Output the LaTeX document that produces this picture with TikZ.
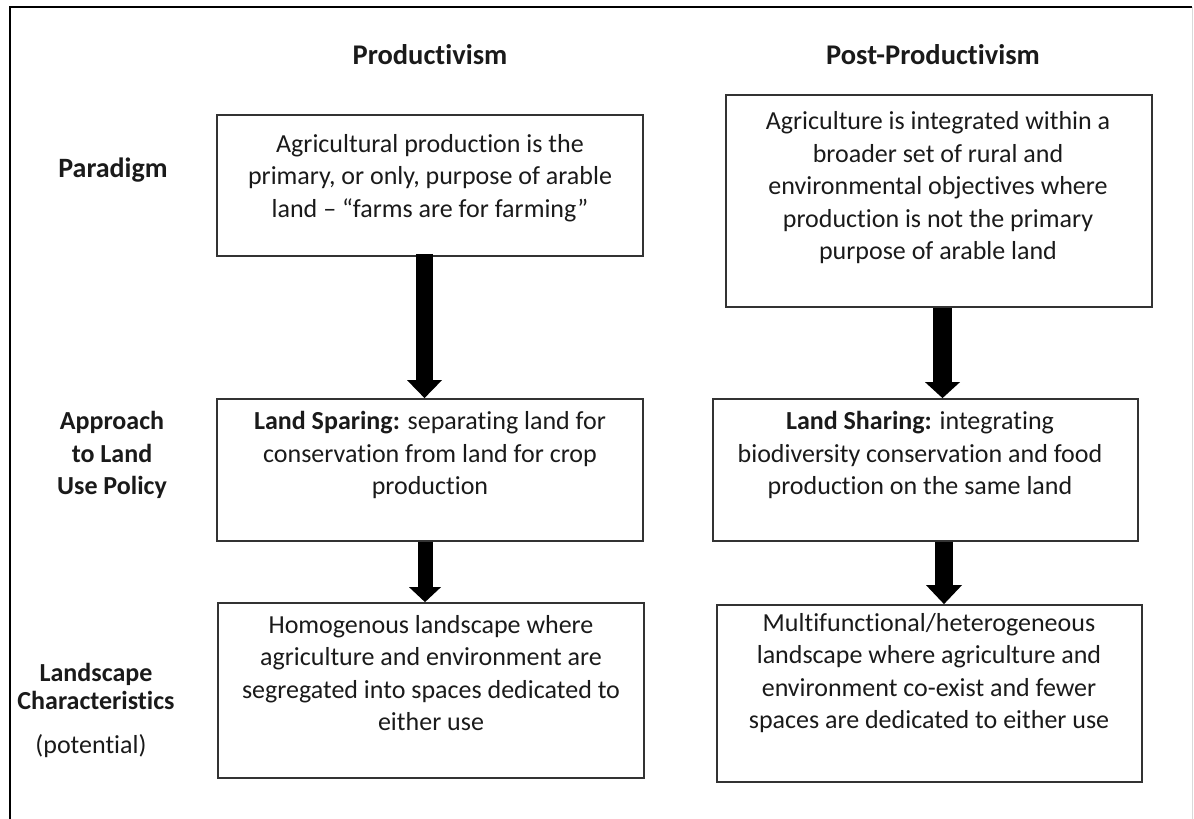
\documentclass[tikz,border=0pt]{standalone}
\usepackage{fontspec}
\setmainfont{Carlito}[RawFeature={-liga;-clig;-calt;-dlig}]
\usetikzlibrary{arrows.meta}
\definecolor{boxc}{HTML}{333333}
\definecolor{txtc}{HTML}{1A1A1A}
\tikzset{
  box/.style={draw=boxc, line width=1.8pt, inner sep=0pt},
  txt/.style={align=center, text=txtc, inner sep=0pt, font=\fontsize{26}{32.5}\selectfont},
  hdr/.style={text=txtc, inner sep=0pt, font=\fontsize{28.5}{33}\selectfont\bfseries},
  side/.style={align=center, text=txtc, inner sep=0pt, font=\fontsize{26}{32.5}\selectfont\bfseries},
  fat/.style n args={3}{draw=black, line width=#1, -{Triangle[width=#2,length=#3,line width=0pt]}}
}
\begin{document}
\begin{tikzpicture}[x=1pt,y=-1pt]
\useasboundingbox (0,0) rectangle (1194,819);
% outer frame
\draw[line width=2.5pt, black] (10,830) -- (10,7) -- (1192,7);
\draw[line width=0.8pt, black!15] (1192,7) -- (1192,830);

% headers
\node[hdr] (h1) at (430,55) {Productivism};
\node[hdr] (h2) at (933,55) {Post-Productivism};

% side labels
\node[side, font=\fontsize{28}{33}\selectfont\bfseries] (s1) at (113,170) {Paradigm};
\node[side] (s2) at (112,455) {Approach\\to Land\\Use Policy};
\node[side, font=\fontsize{26}{28}\selectfont\bfseries] (s3) at (96,686) {Landscape\\Characteristics};
\node[txt] (s4) at (91,746) {(potential)};

% boxes
\node[box, minimum width=426, minimum height=141] (A) at (430,185.5) {};
\node[box, minimum width=426, minimum height=212] (B) at (939,201) {};
\node[box, minimum width=426, minimum height=142] (C) at (430,470) {};
\node[box, minimum width=425, minimum height=142] (D) at (925.5,470) {};
\node[box, minimum width=426, minimum height=175] (E) at (431,690.5) {};
\node[box, minimum width=425, minimum height=177] (F) at (929.5,693.5) {};

% box texts
\node[txt] (tA) at (430,178) {Agricultural production is the\\primary, or only, purpose of arable\\land -- “farms are for farming”};
\node[txt] (tB) at (938,188) {Agriculture is integrated within a\\broader set of rural and\\environmental objectives where\\production is not the primary\\purpose of arable land};
\node[txt] (tC) at (430,455) {\textbf{Land Sparing:} separating land for\\conservation from land for crop\\production};
\node[txt] (tD) at (920,455) {\textbf{Land Sharing:} integrating\\biodiversity conservation and food\\production on the same land};
\node[txt] (tE) at (431,673) {Homogenous landscape where\\agriculture and environment are\\segregated into spaces dedicated to\\either use};
\node[txt] (tF) at (929,673) {Multifunctional/heterogeneous\\landscape where agriculture and\\environment co-exist and fewer\\spaces are dedicated to either use};

% arrow x positions
\coordinate (x1) at (424.5,0);
\coordinate (x2) at (942.5,0);
\coordinate (x3) at (425,0);
\coordinate (x4) at (944,0);

% arrows
\draw[fat={17pt}{35pt}{18pt}] ([yshift=3pt]A.south -| x1) -- (C.north -| x1);
\draw[fat={19pt}{35pt}{16pt}] (B.south -| x2) -- (D.north -| x2);
\draw[fat={15pt}{32pt}{15pt}] (C.south -| x3) -- (E.north -| x3);
\draw[fat={18pt}{36pt}{19pt}] (D.south -| x4) -- (F.north -| x4);
\end{tikzpicture}
\end{document}
